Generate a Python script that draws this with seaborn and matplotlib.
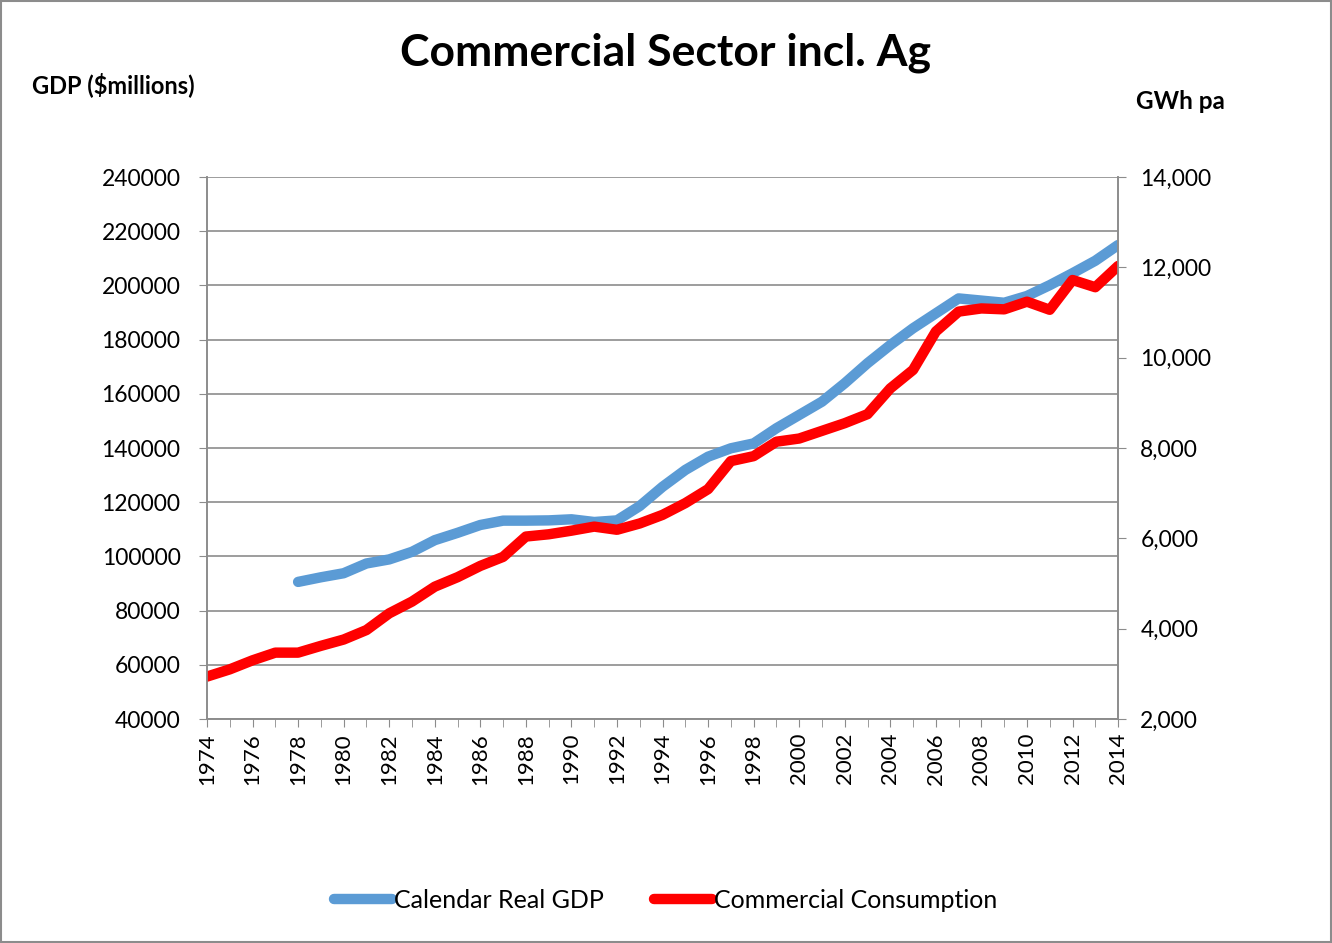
import numpy as np
import pandas as pd
import matplotlib
matplotlib.use("Agg")
import matplotlib.pyplot as plt
import seaborn as sns
from matplotlib.ticker import MultipleLocator, FuncFormatter

# -----------------------------
# Data
# -----------------------------
years = list(range(1974, 2015))

gdp_years = list(range(1978, 2015))
gdp_millions = [90600, 92300, 93800, 97400, 98900, 101700, 106000, 108700, 111600,
                113200, 113200, 113300, 113700, 112700, 113300, 118600, 125700,
                131900, 136800, 139900, 141700, 147300, 152200, 157100, 163900,
                171300, 178000, 184200, 189700, 195200, 194400, 193600, 196100,
                200100, 204500, 209100, 214900]

consumption_gwh = [2940, 3100, 3300, 3470, 3470, 3620, 3760, 3970, 4340, 4600,
                   4930, 5140, 5390, 5590, 6040, 6090, 6170, 6260, 6190, 6330,
                   6520, 6780, 7090, 7710, 7820, 8140, 8210, 8380, 8550, 8750,
                   9320, 9730, 10580, 11020, 11090, 11070, 11240, 11060, 11720,
                   11560, 12030]

gdp_df = pd.DataFrame({"Year": gdp_years, "GDP": gdp_millions})
cons_df = pd.DataFrame({"Year": years, "GWh": consumption_gwh})

# -----------------------------
# Style
# -----------------------------
sns.set_style("white")
plt.rcParams["font.family"] = ["Lato", "DejaVu Sans"]
plt.rcParams["text.color"] = "black"

grey = "#8c8c8c"
blue = "#5b9bd5"
red = "#ff0000"

fig = plt.figure(figsize=(13.32, 9.43), dpi=100)
ax = fig.add_axes([0.1554, 0.2375, 0.6840, 0.5748])
ax2 = ax.twinx()

sns.lineplot(data=gdp_df, x="Year", y="GDP", ax=ax, color=blue, linewidth=7.5,
             label="Calendar Real GDP", legend=False, solid_capstyle="round")
sns.lineplot(data=cons_df, x="Year", y="GWh", ax=ax2, color=red, linewidth=7.5,
             label="Commercial Consumption", legend=False, solid_capstyle="round")

# left axis
ax.set_xlim(1974, 2014)
ax.set_ylim(40000, 240000)
ax.yaxis.set_major_locator(MultipleLocator(20000))
ax.xaxis.set_major_locator(MultipleLocator(2))
ax.xaxis.set_minor_locator(MultipleLocator(1))
ax.grid(axis="y", color=grey, linewidth=1.2)
ax.grid(axis="x", visible=False)
ax.set_xlabel("")
ax.set_ylabel("")
ax.tick_params(axis="y", labelsize=16.5, length=6, color=grey, labelcolor="black",
               direction="out", left=True, pad=13)
ax.tick_params(axis="x", which="major", labelsize=16, length=6, color=grey, labelcolor="black",
               direction="out", bottom=True, labelrotation=90, pad=4)
ax.tick_params(axis="x", which="minor", length=6, color=grey, direction="out", bottom=True)

# right axis
ax2.set_ylim(2000, 14000)
ax2.yaxis.set_major_locator(MultipleLocator(2000))
ax2.yaxis.set_major_formatter(FuncFormatter(lambda v, p: f"{int(v):,}"))
ax2.set_ylabel("")
ax2.tick_params(axis="y", labelsize=16.5, length=6, color=grey, labelcolor="black",
                direction="out", right=True, pad=10)
ax2.grid(False)

for a in (ax, ax2):
    for side in ["left", "right", "bottom"]:
        a.spines[side].set_color(grey)
        a.spines[side].set_linewidth(1.2)
    a.spines["top"].set_visible(False)

# titles
fig.text(0.5, 0.944, "Commercial Sector incl. Ag", ha="center", va="center",
         fontsize=32, fontweight="bold", color="black")
fig.text(0.024, 0.910, "GDP ($millions)", ha="left", va="center",
         fontsize=17, fontweight="bold", color="black")
fig.text(0.853, 0.892, "GWh pa", ha="left", va="center",
         fontsize=17.5, fontweight="bold", color="black")

# legend
handles = ax.get_lines()[:1] + ax2.get_lines()[:1]
labels = ["Calendar Real GDP", "Commercial Consumption"]
fig.legend(handles, labels, loc="center", bbox_to_anchor=(0.5, 0.045), ncol=2,
           frameon=False, fontsize=18, handlelength=2.3, handletextpad=0.1,
           columnspacing=2.0)

# figure border
fig.patches.append(plt.Rectangle((0.001, 0.001), 0.998, 0.998, transform=fig.transFigure,
                                 fill=False, edgecolor=grey, linewidth=1.5))

fig.savefig("out.png", dpi=100)
